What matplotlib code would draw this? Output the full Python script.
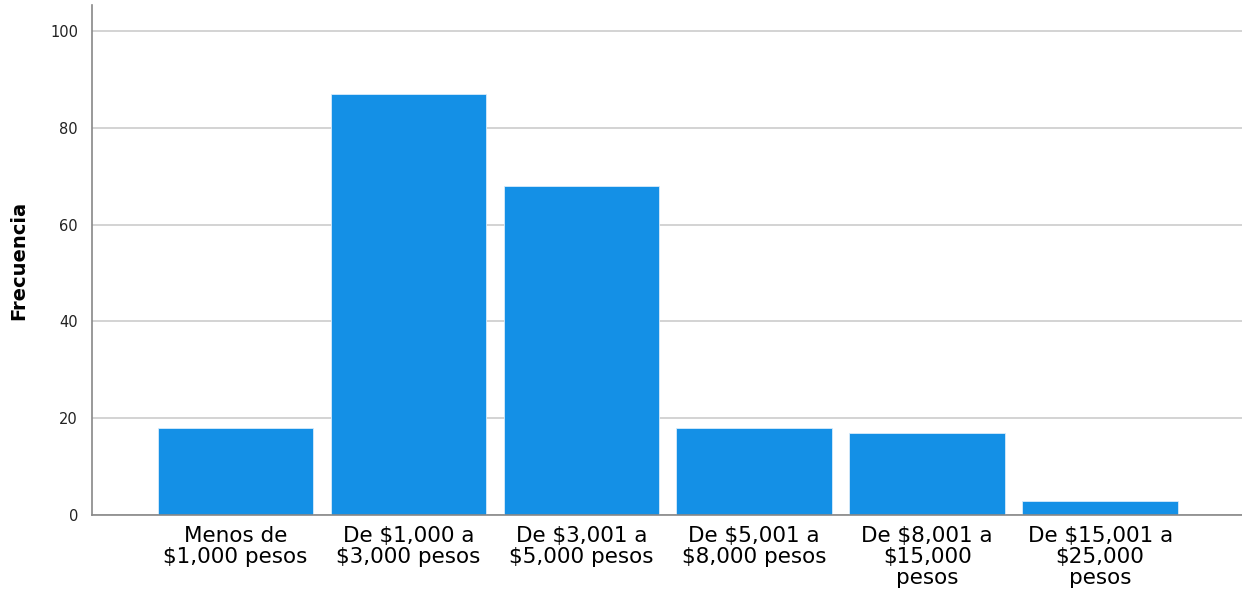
import matplotlib
matplotlib.use("Agg")
import matplotlib.pyplot as plt

# income ranges and their counts
categorias = [
    "Menos de\n$1,000 pesos",
    "De $1,000 a\n$3,000 pesos",
    "De $3,001 a\n$5,000 pesos",
    "De $5,001 a\n$8,000 pesos",
    "De $8,001 a\n$15,000\npesos",
    "De $15,001 a\n$25,000\npesos",
]
frecuencias = [18, 87, 68, 18, 17, 3]
y_ticks = [0, 20, 40, 60, 80, 100]

fig = plt.figure(figsize=(12.42, 5.97), dpi=100)
ax = fig.add_axes([0.074, 0.137, 0.926, 0.855])

# grid lines behind bars
ax.set_axisbelow(True)
ax.yaxis.grid(True, color="#cccccc", linewidth=1.2)

x = range(len(categorias))
ax.bar(x, frecuencias, width=0.9, color="#1490e6", edgecolor="#d7ecfb", linewidth=0.6)

ax.set_xlim(-0.83, 5.82)
ax.set_ylim(0, 105.4)
ax.set_yticks(y_ticks)
ax.set_xticks(list(x))
ax.set_xticklabels(categorias, fontsize=15.5, linespacing=1.05)
ax.tick_params(axis="y", labelsize=10.5, length=0, pad=10, labelcolor="#222222")
ax.tick_params(axis="x", length=0, pad=8)

for side in ["top", "right"]:
    ax.spines[side].set_visible(False)
ax.spines["left"].set_color("#888888")
ax.spines["bottom"].set_color("#888888")
ax.spines["left"].set_linewidth(1.2)
ax.spines["bottom"].set_linewidth(1.2)

ax.set_ylabel("Frecuencia", fontsize=14, fontweight="bold", labelpad=16)

fig.savefig("out.png", dpi=100)
